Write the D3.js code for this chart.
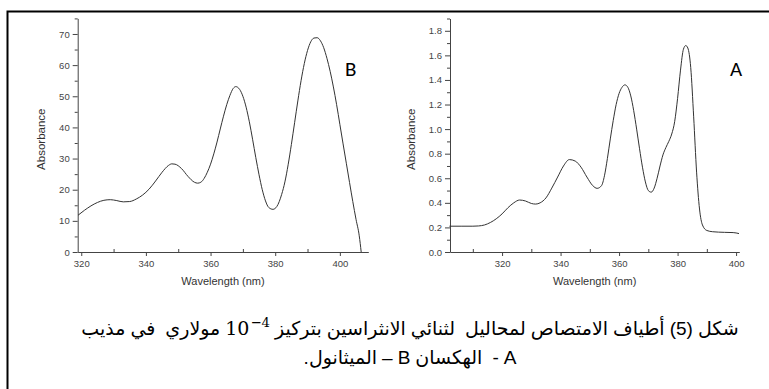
<!DOCTYPE html>
<html>
<head>
<meta charset="utf-8">
<script src="https://cdn.jsdelivr.net/npm/d3@7"></script>
<style>
body { margin: 0; background: #fff; }
svg { display: block; }
</style>
</head>
<body>
<svg id="fig" width="769" height="389"></svg>
<script>

// spectrum B
var wavelengthB = [319, 321, 323, 325, 327, 329, 331, 333, 335, 337, 339, 341, 343, 345, 347, 348, 349, 351, 353, 355, 356, 357, 358, 359, 360, 361, 362, 363, 364, 365, 366, 367, 367.8, 369, 370, 371, 372, 373, 374, 375, 376, 377, 378, 379.3, 380.5, 382, 383, 384, 385, 386, 387, 388, 389, 390, 391, 392, 393, 394, 395, 396, 397, 398, 399, 400, 401, 402, 403, 404, 405, 406, 406.6]
var absorbanceB = [11.8, 13.4, 14.8, 15.9, 16.6, 16.8, 16.5, 16.1, 16.2, 17.0, 18.3, 20.2, 22.8, 25.6, 27.8, 28.3, 28.2, 26.8, 24.3, 22.4, 22.1, 22.4, 23.6, 25.6, 28.2, 31.5, 35.3, 39.5, 43.6, 47.3, 50.3, 52.5, 53.1, 52.2, 50.0, 46.5, 41.8, 36.2, 30.3, 24.8, 20.0, 16.4, 14.3, 13.7, 14.6, 18.5, 22.5, 28.0, 34.5, 41.5, 48.5, 55.0, 60.5, 64.7, 67.5, 68.7, 68.8, 67.8, 65.6, 62.2, 58.0, 53.0, 47.3, 41.0, 34.7, 28.5, 22.3, 16.2, 10.5, 5.2, 0]

// spectrum A (right panel)
var wavelengthA = [302, 306, 310, 312, 314, 316, 318, 320, 322, 324, 326, 328, 330, 331.5, 333, 335, 337, 339, 341, 343, 345, 347, 349, 351, 352.5, 354, 355, 356, 357, 358, 359, 360, 361, 362, 363, 364, 365, 366, 367, 368, 369, 370, 371, 372, 373, 374, 375, 376, 377, 378, 379, 380, 381, 382, 382.8, 383.5, 384.5, 385.5, 386.5, 387.5, 388.5, 390, 392, 396, 399, 401]
var absorbanceA = [0.21, 0.21, 0.21, 0.212, 0.22, 0.24, 0.27, 0.31, 0.36, 0.40, 0.423, 0.415, 0.395, 0.39, 0.40, 0.44, 0.52, 0.61, 0.70, 0.752, 0.74, 0.69, 0.61, 0.54, 0.518, 0.54, 0.62, 0.76, 0.92, 1.07, 1.2, 1.29, 1.34, 1.36, 1.34, 1.27, 1.15, 1.0, 0.84, 0.69, 0.57, 0.5, 0.487, 0.52, 0.6, 0.7, 0.79, 0.85, 0.9, 0.96, 1.06, 1.25, 1.48, 1.65, 1.68, 1.66, 1.5, 1.1, 0.65, 0.35, 0.22, 0.175, 0.165, 0.16, 0.158, 0.15]

var xTicks = [320, 340, 360, 380, 400]
var xMinor = [310, 330, 350, 370, 390, 410]
var yTicksB = [0, 10, 20, 30, 40, 50, 60, 70]
var yMinorB = [5, 15, 25, 35, 45, 55, 65, 75]
var yTicksA = [0, 0.2, 0.4, 0.6, 0.8, 1.0, 1.2, 1.4, 1.6, 1.8]
var yMinorA = [0.1, 0.3, 0.5, 0.7, 0.9, 1.1, 1.3, 1.5, 1.7, 1.9]

// caption words in reading order (right to left on the page)
// gap = space before the word, sup = raised exponent, serif = equation font
var captionLine1 = [
    {text: "شكل", gap: 0},
    {text: "(5)", gap: 5},
    {text: "أطياف", gap: 5},
    {text: "الامتصاص", gap: 5},
    {text: "لمحاليل", gap: 5},
    {text: "لثنائي", gap: 10},
    {text: "الانثراسين", gap: 5},
    {text: "بتركيز", gap: 5},
    {text: "\u22124", gap: 5, sup: true, serif: true},
    {text: "10", gap: 1, serif: true},
    {text: "مولاري", gap: 5},
    {text: "في", gap: 10},
    {text: "مذيب", gap: 5}
]
var captionLine2 = [
    {text: "A", gap: 0},
    {text: "-", gap: 5},
    {text: "الهكسان", gap: 10},
    {text: "B", gap: 5},
    {text: "–", gap: 5},
    {text: "الميثانول", gap: 5},
    {text: ".", gap: 0}
]

var svg = d3.select("#fig")

// frame (only left and top edges are in the crop)
svg.append("path")
    .attr("d", "M7.5,389 V11.5 H769")
    .attr("fill", "none")
    .attr("stroke", "#000")
    .attr("stroke-width", 2)

function drawPanel(p) {

    var x = d3.scaleLinear().domain(p.xDomain).range([p.left, p.right])
    var y = d3.scaleLinear().domain(p.yDomain).range([p.bottom, p.top])

    var g = svg.append("g")

    // minor ticks
    g.append("g")
        .attr("transform", "translate(0," + p.bottom + ")")
        .call(d3.axisBottom(x).tickValues(xMinor.filter(function(v) {
            return v > p.xDomain[0] && v < p.xDomain[1]
        })).tickSize(-3).tickFormat(""))
        .call(function(a) { a.select(".domain").remove() })

    g.append("g")
        .attr("transform", "translate(" + p.left + ",0)")
        .call(d3.axisLeft(y).tickValues(p.yMinor).tickSize(3).tickFormat(""))
        .call(function(a) { a.select(".domain").remove() })

    // major ticks
    g.append("g")
        .attr("class", "ax")
        .attr("transform", "translate(0," + p.bottom + ")")
        .call(d3.axisBottom(x).tickValues(xTicks).tickSize(4).tickSizeOuter(0).tickPadding(4))

    g.append("g")
        .attr("class", "ax")
        .attr("transform", "translate(" + p.left + ",0)")
        .call(d3.axisLeft(y).tickValues(p.yTicks).tickSize(5).tickSizeOuter(0).tickPadding(3)
            .tickFormat(p.yFormat))

    g.selectAll("line, path.domain").attr("stroke", "#444")
    g.selectAll(".ax text")
        .attr("fill", "#444")
        .style("font-family", "'Liberation Sans', Arial, sans-serif")
        .style("font-size", "9.5px")

    // axis titles
    g.append("text")
        .attr("x", (p.left + p.right) / 2)
        .attr("y", 285)
        .attr("text-anchor", "middle")
        .attr("fill", "#333")
        .style("font-family", "'Liberation Sans', Arial, sans-serif")
        .style("font-size", "11px")
        .text("Wavelength (nm)")

    g.append("text")
        .attr("transform", "translate(" + p.titleX + "," + ((p.top + p.bottom) / 2 + 4) + ") rotate(-90)")
        .attr("text-anchor", "middle")
        .attr("fill", "#333")
        .style("font-family", "'Liberation Sans', Arial, sans-serif")
        .style("font-size", "11.5px")
        .text("Absorbance")

    var line = d3.line()
        .x(function(d) { return x(d[0]) })
        .y(function(d) { return y(d[1]) })
        .curve(d3.curveMonotoneX)

    g.append("path")
        .datum(d3.zip(p.wl, p.abs))
        .attr("d", line)
        .attr("fill", "none")
        .attr("stroke", "#333")
        .attr("stroke-width", 1)

    g.append("text")
        .attr("x", p.labelX)
        .attr("y", 76)
        .attr("fill", "#000")
        .style("font-family", "Carlito, Calibri, 'Liberation Sans', sans-serif")
        .style("font-size", "21px")
        .text(p.label)
}

drawPanel({
    left: 77.7, right: 368.3, top: 18.4, bottom: 252,
    xDomain: [318.9, 408.8], yDomain: [0, 75],
    yTicks: yTicksB, yMinor: yMinorB, yFormat: d3.format("d"),
    wl: wavelengthB, abs: absorbanceB,
    titleX: 45, label: "B", labelX: 345
})

drawPanel({
    left: 450, right: 739.3, top: 18.5, bottom: 252,
    xDomain: [302.2, 401.1], yDomain: [0, 1.9],
    yTicks: yTicksA, yMinor: yMinorA, yFormat: d3.format(".1f"),
    wl: wavelengthA, abs: absorbanceA,
    titleX: 414.5, label: "A", labelX: 730
})

// caption: every word is its own text, laid from the right edge leftwards
function captionLine(words, cx, y, size) {

    var g = svg.append("g")
        .attr("fill", "#000")
        .style("font-family", "'Liberation Sans', 'DejaVu Sans', sans-serif")

    var items = g.selectAll("text")
        .data(words)
        .enter()
        .append("text")
        .style("font-size", function(d) { return (d.sup ? size * 0.7 : size) + "px" })
        .style("font-family", function(d) {
            if (d.serif)
                return "'DejaVu Serif', serif"
            return null
        })
        .text(function(d) { return d.text })

    var widths = items.nodes().map(function(n) { return n.getComputedTextLength() })
    var total = d3.sum(words, function(d) { return d.gap }) + d3.sum(widths)

    var pos = cx + total / 2
    items.attr("x", function(d, i) {
        pos -= d.gap + widths[i]
        return pos
    })
    .attr("y", function(d) {
        if (d.sup)
            return y - 8
        return y
    })
}

captionLine(captionLine1, 410, 335, 19)
captionLine(captionLine2, 410, 364, 19)

</script>
</body>
</html>
